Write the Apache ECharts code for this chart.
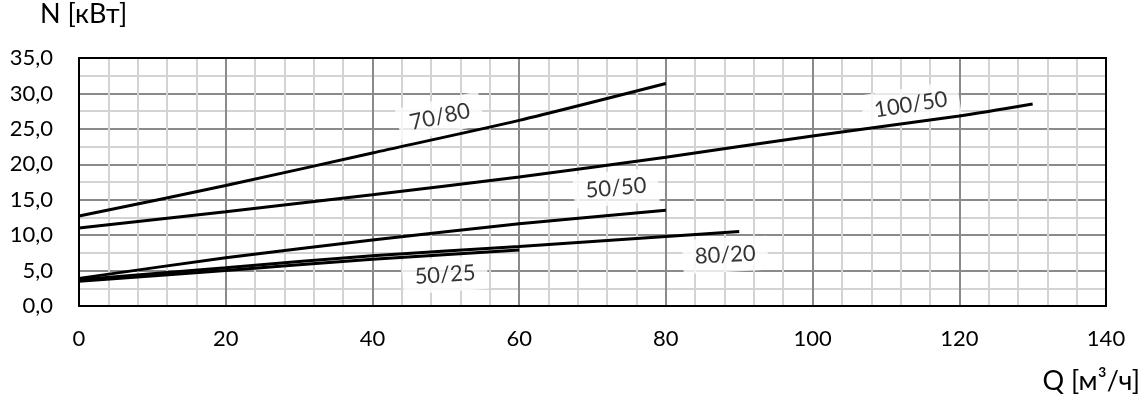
<!DOCTYPE html>
<html>
<head>
<meta charset="utf-8">
<script src="https://cdn.jsdelivr.net/npm/echarts@6/dist/echarts.min.js"></script>
<style>
html,body{margin:0;padding:0;background:#fff;}
#chart{width:1144px;height:410px;}
</style>
</head>
<body>
<div id="chart"></div>
<script>
// Data (x = Q [м³/ч], y = N [кВт])
const s7080  = [[0,12.7],[20,17.0],[40,21.6],[60,26.2],[80,31.4]];
const s10050 = [[0,11.0],[20,13.3],[40,15.7],[60,18.2],[80,21.0],[100,24.0],[120,26.8],[130,28.5]];
const s5050  = [[0,3.9],[20,6.8],[40,9.3],[60,11.6],[80,13.5]];
const s8020  = [[0,3.7],[20,5.4],[40,7.1],[60,8.4],[80,9.8],[90,10.5]];
const s5025  = [[0,3.5],[20,5.0],[40,6.6],[60,7.9]];
// Curve labels: [x, y, text, rotation]
const curveLabels = [
  [49.2, 26.7, '70/80', 12],
  [113.4, 28.4, '100/50', 9],
  [73.2, 16.65, '50/50', 5],
  [49.9, 4.4, '50/25', 4],
  [88.1, 7.2, '80/20', 3]
];
const xTicks = {min:0, max:140, interval:20};
const yTicks = {min:0, max:35, interval:5};
const yLabel = 'N [кВт]';
const xLabel = 'Q [м³/ч]';

const FONT = 'Lato, "Open Sans", sans-serif';
const chart = echarts.init(document.getElementById('chart'), null, {renderer:'canvas'});

function lineSeries(name, data){
  return {
    name, type:'line', data, smooth:0.25, symbol:'none', silent:true,
    lineStyle:{color:'#000', width:3}, z:3
  };
}

chart.setOption({
  animation:false,
  grid:{left:79, right:38, top:58, bottom:104, show:true, borderColor:'#000', borderWidth:2, z:4},
  xAxis:{
    type:'value', min:xTicks.min, max:xTicks.max, interval:xTicks.interval,
    axisLine:{show:false}, axisTick:{show:false},
    axisLabel:{color:'#000', fontSize:22, fontFamily:FONT, margin:22},
    splitLine:{show:true, lineStyle:{color:'#8a8a8a', width:2}},
    minorTick:{show:false, splitNumber:5},
    minorSplitLine:{show:true, lineStyle:{color:'#d3d3d3', width:2}}
  },
  yAxis:{
    type:'value', min:yTicks.min, max:yTicks.max, interval:yTicks.interval,
    axisLine:{show:false}, axisTick:{show:false},
    axisLabel:{color:'#000', fontSize:22, fontFamily:FONT, margin:26,
      formatter:v=>v.toFixed(1).replace('.',',')},
    splitLine:{show:true, lineStyle:{color:'#8a8a8a', width:2}},
    minorTick:{show:false, splitNumber:2},
    minorSplitLine:{show:true, lineStyle:{color:'#d3d3d3', width:2}}
  },
  graphic:[
    {type:'text', left:40, top:1, style:{text:yLabel, fill:'#000', font:'27px '+FONT}},
    {type:'text', right:4, top:368, style:{text:xLabel, fill:'#000', font:'27px '+FONT}}
  ],
  series:[
    lineSeries('70/80', s7080),
    lineSeries('100/50', s10050),
    lineSeries('50/50', s5050),
    lineSeries('80/20', s8020),
    lineSeries('50/25', s5025),
    {
      type:'scatter', silent:true, symbolSize:0, z:2,
      data: curveLabels.map(d=>({value:[d[0],d[1]], name:d[2],
        label:{rotate:d[3]}})),
      label:{
        show:true, position:'inside', formatter:p=>p.name,
        color:'#000', fontSize:22, fontFamily:FONT,
        backgroundColor:'#fff', padding:[6,12]
      }
    }
  ]
});
</script>
</body>
</html>
